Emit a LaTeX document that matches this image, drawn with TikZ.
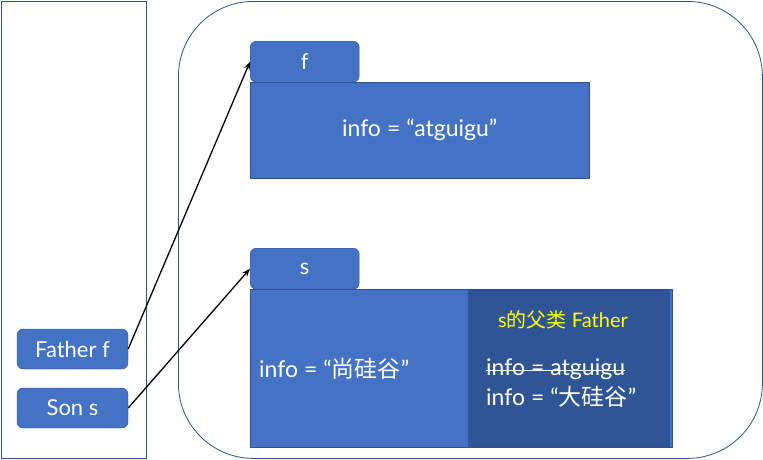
\documentclass[tikz,border=0pt]{standalone}
\usepackage{fontspec}
\setmainfont{Lato}
\newfontfamily\cjk{Noto Sans CJK SC}
\usetikzlibrary{arrows.meta}
\definecolor{blueA}{HTML}{4472C4}
\definecolor{blueD}{HTML}{2F5597}
\definecolor{edgeB}{HTML}{2F528F}
\definecolor{yel}{HTML}{FFFF00}
\newcommand{\eqsign}{\hspace{6pt}=\hspace{6pt}}
\begin{document}
\begin{tikzpicture}[x=1pt,y=-1pt,
  frame/.style={draw=edgeB, line width=0.8pt, anchor=north west, inner sep=0pt},
  tab/.style={draw=edgeB, fill=blueA, rounded corners=6pt, anchor=north west, minimum width=109pt, minimum height=41pt, inner sep=0pt, text=white, font=\fontsize{22}{26}\selectfont},
  body/.style={draw=edgeB, fill=blueA, anchor=north west, inner sep=0pt},
  var/.style={draw=edgeB, fill=blueA, rounded corners=6pt, minimum width=111pt, minimum height=40pt, inner sep=0pt, text=white, font=\fontsize{22}{26}\selectfont},
  txt/.style={text=white, inner sep=0pt, font=\fontsize{23}{27}\selectfont},
  arr/.style={-{Stealth[length=8pt,width=6pt]}, line width=1.3pt, black}]
\useasboundingbox (0,0) rectangle (763,459);
\node[frame, minimum width=145pt, minimum height=457pt] (stack) at (1,1) {};
\node[frame, rounded corners=75pt, minimum width=584pt, minimum height=457pt] (heap) at (178,1) {};
% f object
\node[tab] (ftab) at (250,41) {f};
\node[body, minimum width=339pt, minimum height=96pt] (fbody) at (250,82) {};
\node[txt] (finfo) at (fbody.center) {info\eqsign “atguigu”};
% s object
\node[tab] (stab) at (250,248) {s};
\node[body, minimum width=422pt, minimum height=158pt] (sbody) at (250,289) {};
\node[fill=blueD, anchor=north west, inner sep=0pt, minimum width=202pt, minimum height=157pt] (spar) at (468,289.5) {};
\node[txt, anchor=west] (sinfo) at (259,369) {info\eqsign “{\cjk 尚硅谷}”};
\node[txt, text=yel, anchor=center, font=\fontsize{20}{24}\selectfont] (ptitle) at (563,320) {s{\cjk 的父类} Father};
\node[txt, anchor=west] (pold) at (486,369) {info\eqsign atguigu};
\draw[white, line width=1pt] ([yshift=-1.5pt]pold.west) -- ([yshift=-1.5pt]pold.east);
\node[txt, anchor=west] (pnew) at (486,397) {info\eqsign “{\cjk 大硅谷}”};
% stack variables
\node[var] (fatherf) at (72.5,349) {Father f};
\node[var] (sons) at (72.5,408) {Son s};
\draw[arr] (fatherf.east) -- (ftab.west);
\draw[arr] (sons.east) -- (stab.west);
\end{tikzpicture}
\end{document}
